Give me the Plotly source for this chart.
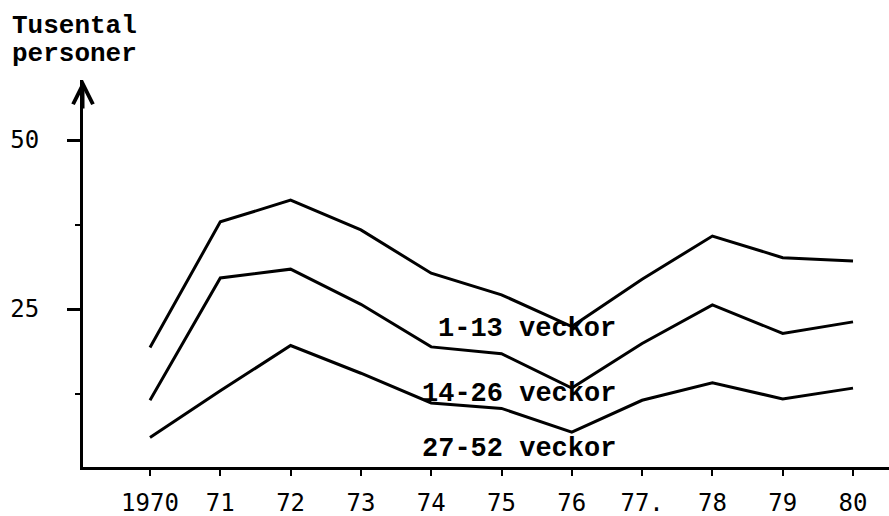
import plotly.graph_objects as go

years = [1970, 1971, 1972, 1973, 1974, 1975, 1976, 1977, 1978, 1979, 1980]
year_labels = ["1970", "71", "72", "73", "74", "75", "76", "77.", "78", "79", "80"]

weeks_1_13 = [19.3, 37.9, 41.1, 36.7, 30.3, 27.1, 22.4, 29.4, 35.8, 32.6, 32.1]
weeks_14_26 = [11.5, 29.6, 30.9, 25.7, 19.4, 18.4, 13.3, 19.9, 25.6, 21.4, 23.1]
weeks_27_52 = [6.0, 12.9, 19.6, 15.5, 11.1, 10.3, 6.8, 11.5, 14.1, 11.7, 13.3]

series_names = ["1-13 veckor", "14-26 veckor", "27-52 veckor"]
series_values = [weeks_1_13, weeks_14_26, weeks_27_52]

y_tick_vals = [25, 50]
y_tick_text = ["25", "50"]

title_lines = ["Tusental", "personer"]

# label anchor (right edge, middle) in data units
label_x = 1976.66
label_y = [22.0, 12.4, 4.3]

TYPE_FONT = "Liberation Mono"
TICK_FONT = "DejaVu Sans Mono"

fig = go.Figure()
for name, vals in zip(series_names, series_values):
    fig.add_trace(go.Scatter(
        x=years, y=vals, mode="lines", name=name,
        line=dict(color="black", width=3),
        showlegend=False, hoverinfo="skip",
    ))

annotations = []
for name, ly in zip(series_names, label_y):
    annotations.append(dict(
        x=label_x, y=ly, xref="x", yref="y", text=name, showarrow=False,
        xanchor="right", yanchor="middle",
        font=dict(family=TYPE_FONT, size=27, color="black", weight="bold"),
    ))

# axis title, two lines
for line_text, top_px in zip(title_lines, [9, 37]):
    annotations.append(dict(
        x=-0.0905, y=1.0 + (80 - top_px) / 387, xref="paper", yref="paper",
        text=line_text, showarrow=False, align="left",
        xanchor="left", yanchor="top",
        font=dict(family=TYPE_FONT, size=26, color="black", weight="bold"),
    ))

# arrow head on the y axis
annotations.append(dict(
    x=0, y=1, xref="paper", yref="paper", ax=0, ay=30,
    axref="pixel", ayref="pixel", text="", showarrow=True,
    arrowhead=5, arrowsize=1.3, arrowwidth=3, arrowcolor="black",
))

fig.update_layout(
    width=889, height=516,
    margin=dict(l=83, r=0, t=80, b=49, autoexpand=False),
    paper_bgcolor="white", plot_bgcolor="white",
    annotations=annotations,
    xaxis=dict(
        range=[1969.047, 1980.512],
        tickvals=years, ticktext=year_labels,
        showline=True, linecolor="black", linewidth=3,
        ticks="outside", ticklen=6, tickwidth=2, tickcolor="black",
        ticklabelstandoff=6, automargin=False,
        showgrid=False, zeroline=False,
        tickfont=dict(family=TICK_FONT, size=24, color="black"),
    ),
    yaxis=dict(
        range=[1.63, 58.88],
        tickvals=y_tick_vals, ticktext=y_tick_text,
        showline=True, linecolor="black", linewidth=3,
        ticks="outside", ticklen=13, tickwidth=3, tickcolor="black",
        ticklabelstandoff=23, automargin=False,
        minor=dict(tickvals=[12.5, 37.5], ticks="outside", ticklen=5,
                   tickwidth=2, tickcolor="black"),
        showgrid=False, zeroline=False,
        tickfont=dict(family=TICK_FONT, size=24, color="black"),
    ),
)

fig.write_html(
    "out.html",
    config={"displayModeBar": False},
    post_script="document.body.style.margin='0';document.body.style.overflow='hidden';",
)
